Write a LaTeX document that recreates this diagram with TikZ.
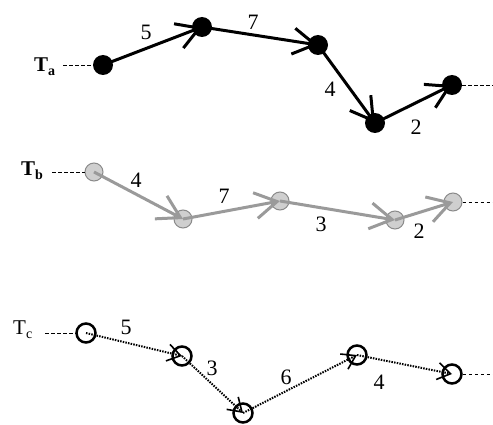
\documentclass[tikz,border=0pt]{standalone}
\usepackage{fontspec}
\setmainfont{Liberation Serif}
\usetikzlibrary{arrows.meta}
\definecolor{gedge}{HTML}{9A9A9A}
\definecolor{gfill}{HTML}{CFCFCF}
\definecolor{gline}{HTML}{8A8A8A}
\begin{document}
\begin{tikzpicture}[x=1pt,y=-1pt,
  anode/.style={circle, fill=black, minimum size=20pt, inner sep=0},
  bnode/.style={circle, fill=gfill, draw=gline, line width=1pt, minimum size=18pt, inner sep=0},
  cnode/.style={circle, draw=black, fill=white, line width=2.5pt, minimum size=19pt, inner sep=0},
  aedge/.style={line width=3pt, -{Straight Barb[length=22pt,width=26pt]}},
  bedge/.style={gedge, line width=3pt, -{Straight Barb[length=22pt,width=26pt]}},
  cedge/.style={line width=2pt, dash pattern=on 1.5pt off 1.2pt, -{Straight Barb[length=13pt,width=17pt,line width=1.6pt]}},
  lead/.style={line width=0.8pt, dash pattern=on 3.5pt off 2.5pt},
  num/.style={font=\fontsize{22}{22}\selectfont, inner sep=0},
  tlab/.style={font=\fontsize{21}{21}\selectfont, inner sep=0, anchor=base west}]
\useasboundingbox (0,0) rectangle (493,425);
% row a
\node[tlab] (ta) at (34,72) {\textbf{T}\raisebox{-4pt}{\fontsize{14}{14}\selectfont\textbf{a}}};
\node[anode] (a1) at (103,65) {};
\node[anode] (a2) at (202,27) {};
\node[anode] (a3) at (318,45) {};
\node[anode] (a4) at (375,123) {};
\node[anode] (a5) at (452,85) {};
\coordinate (al) at (63,65);
\coordinate (ar) at (493,85);
\draw[lead] (al) -- (a1);
\draw[lead] (a5) -- (ar);
\draw[aedge] (a1.center) -- (a2.center);
\draw[aedge] (a2.center) -- (a3.center);
\draw[aedge] (a3.center) -- (a4.center);
\draw[aedge] (a4.center) -- (a5.center);
\node[num] (na1) at (146,32) {5};
\node[num] (na2) at (253,22) {7};
\node[num] (na3) at (330,89) {4};
\node[num] (na4) at (416,127) {2};
% row b
\node[tlab] (tb) at (21,176) {\textbf{T}\raisebox{-4pt}{\fontsize{14}{14}\selectfont\textbf{b}}};
\node[bnode] (b1) at (94,172) {};
\node[bnode] (b2) at (183,219) {};
\node[bnode] (b3) at (280,201) {};
\node[bnode] (b4) at (395,220) {};
\node[bnode] (b5) at (453,202) {};
\coordinate (bl) at (52,172);
\coordinate (br) at (493,202);
\draw[lead, line width=0.6pt] (bl) -- (b1);
\draw[lead, line width=0.6pt] (b5) -- (br);
\draw[bedge] (b1.center) -- (b2.center);
\draw[bedge] (b2.center) -- (b3.center);
\draw[bedge] (b3.center) -- (b4.center);
\draw[bedge] (b4.center) -- (b5.center);
\node[num] (nb1) at (136,180) {4};
\node[num] (nb2) at (224,196) {7};
\node[num] (nb3) at (321,224) {3};
\node[num] (nb4) at (419,231) {2};
% row c
\node[tlab] (tc) at (13,334) {T\raisebox{-4pt}{\fontsize{14}{14}\selectfont c}};
\node[cnode] (c1) at (86,333) {};
\node[cnode] (c2) at (182,356) {};
\node[cnode] (c3) at (243,413) {};
\node[cnode] (c4) at (357,355) {};
\node[cnode] (c5) at (452,374) {};
\coordinate (cl) at (45,333);
\coordinate (cr) at (493,374);
\draw[lead] (cl) -- (c1);
\draw[lead] (c5) -- (cr);
\draw[cedge] (c1.center) -- (c2.center);
\draw[cedge] (c2.center) -- (c3.center);
\draw[cedge] (c3.center) -- (c4.center);
\draw[cedge] (c4.center) -- (c5.center);
\node[num] (nc1) at (126,327) {5};
\node[num] (nc2) at (212,368) {3};
\node[num] (nc3) at (286,377) {6};
\node[num] (nc4) at (379,382) {4};
\end{tikzpicture}
\end{document}
